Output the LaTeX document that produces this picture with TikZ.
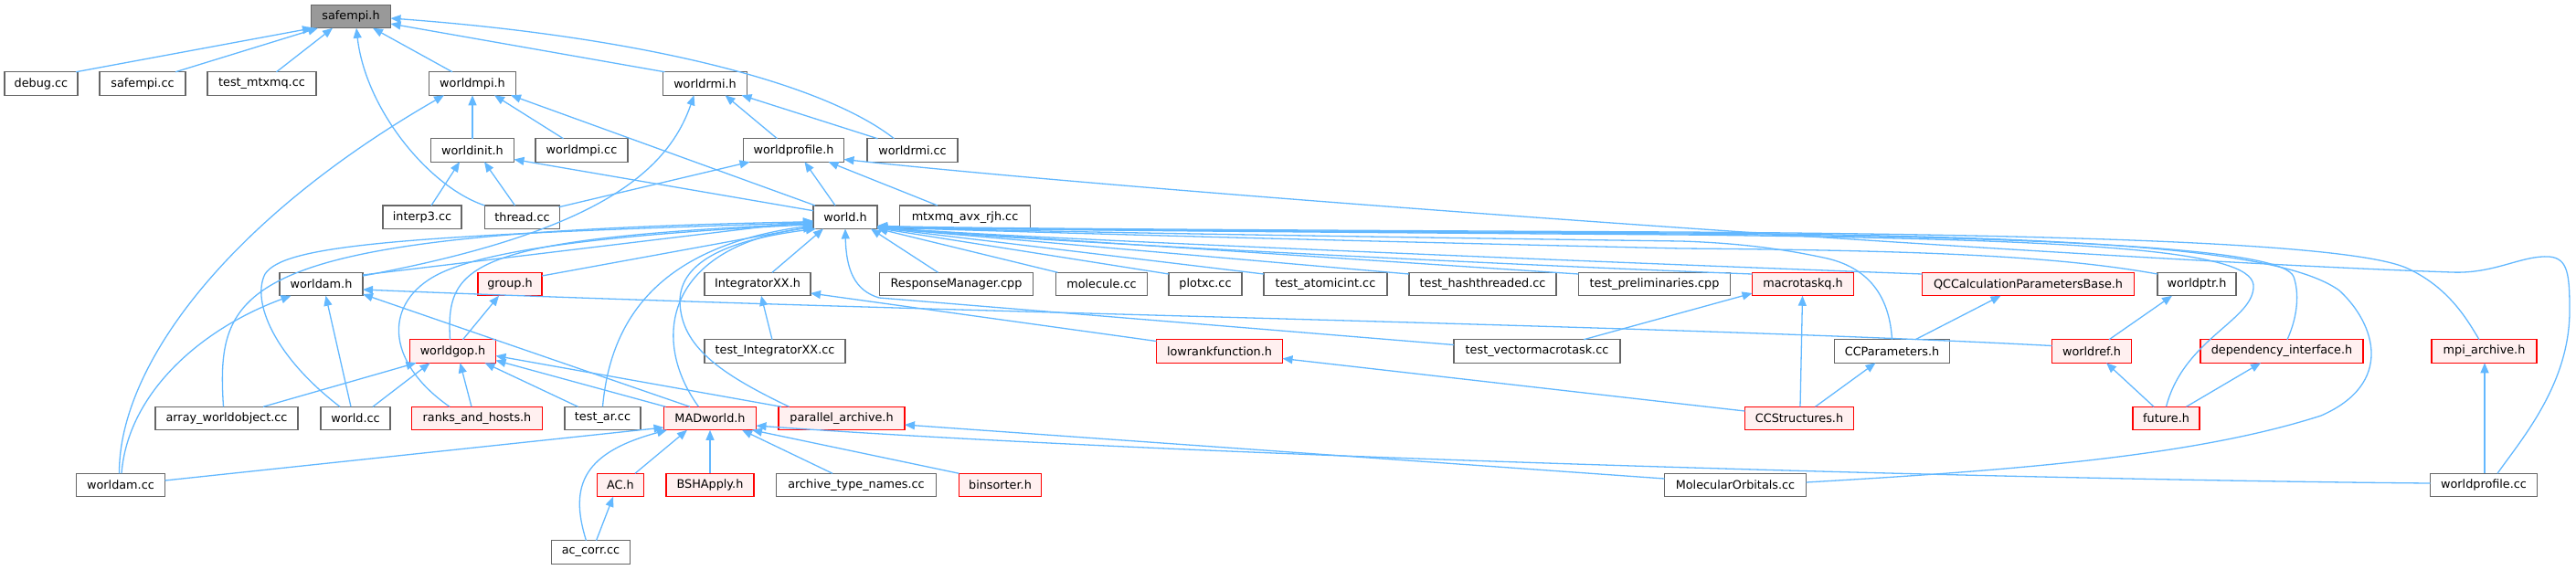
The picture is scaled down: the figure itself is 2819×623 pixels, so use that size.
\documentclass[tikz,border=0pt]{standalone}
\usepackage{fontspec}
\setmainfont{DejaVu Sans}
\usetikzlibrary{arrows.meta,calc}
\definecolor{edgeblue}{HTML}{63B8FF}
\definecolor{nodegray}{HTML}{666666}
\definecolor{redfill}{HTML}{FFF0F0}
\definecolor{rootgray}{HTML}{999999}
\tikzset{
  nb/.style={draw=nodegray, fill=white, line width=0.7pt, minimum height=12.75pt, inner sep=0pt,
    font=\fontsize{6.4}{7.5}\selectfont, text=black},
  nr/.style={nb, draw=red, fill=redfill},
  nroot/.style={nb, fill=rootgray},
  bw/.style={minimum width=0.5pt*#1},
  dep/.style={draw=edgeblue, line width=0.65pt, -{Triangle[length=5.5pt,width=4.5pt]}}
}
\begin{document}
\begin{tikzpicture}[x=0.5pt,y=-0.5pt]
\useasboundingbox (0,0) rectangle (2819,623);
% row 1
\node[nroot,bw=87] (safempih) at (384,18) {safempi.h};
% row 2
\node[nb,bw=80] (debugcc) at (45,91.5) {debug.cc};
\node[nb,bw=94] (safempicc) at (156,91.5) {safempi.cc};
\node[nb,bw=119] (testmtxmq) at (286.5,91.5) {test\_mtxmq.cc};
\node[nb,bw=95] (worldmpih) at (517,91.5) {worldmpi.h};
\node[nb,bw=92] (worldrmih) at (771.5,91.5) {worldrmi.h};
% row 3
\node[nb,bw=91] (worldinith) at (517,164.5) {worldinit.h};
\node[nb,bw=101] (worldmpicc) at (636.5,164.5) {worldmpi.cc};
\node[nb,bw=110] (worldprofileh) at (868.5,164.5) {worldprofile.h};
\node[nb,bw=99] (worldrmicc) at (998.5,164.5) {worldrmi.cc};
% row 4
\node[nb,bw=86] (interp3) at (462,237.7) {interp3.cc};
\node[nb,bw=82] (threadcc) at (571.5,237.7) {thread.cc};
\node[nb,bw=70] (worldh) at (925,237.7) {world.h};
\node[nb,bw=143] (mtxmq) at (1056,237.7) {mtxmq\_avx\_rjh.cc};
% row 5
\node[nb,bw=91] (worldamh) at (351.5,311) {worldam.h};
\node[nr,bw=70] (grouph) at (558,311) {group.h};
\node[nb,bw=116] (integh) at (829,311) {IntegratorXX.h};
\node[nb,bw=168] (respmgr) at (1046.5,311) {ResponseManager.cpp};
\node[nb,bw=100] (moleculecc) at (1205.5,311) {molecule.cc};
\node[nb,bw=80] (plotxc) at (1319,311) {plotxc.cc};
\node[nb,bw=135] (testatomic) at (1450.5,311) {test\_atomicint.cc};
\node[nb,bw=161] (testhash) at (1622.5,311) {test\_hashthreaded.cc};
\node[nb,bw=166] (testprelim) at (1810.5,311) {test\_preliminaries.cpp};
\node[nr,bw=111] (macrotaskq) at (1973,311) {macrotaskq.h};
\node[nr,bw=232] (qccalc) at (2219.5,311) {QCCalculationParametersBase.h};
\node[nb,bw=86] (worldptrh) at (2404,311) {worldptr.h};
% row 6
\node[nr,bw=94] (worldgoph) at (495.5,384.5) {worldgop.h};
\node[nb,bw=154] (testinteg) at (848,384.5) {test\_IntegratorXX.cc};
\node[nr,bw=138] (lowrank) at (1334.5,384.5) {lowrankfunction.h};
\node[nb,bw=182] (testvecmt) at (1682,384.5) {test\_vectormacrotask.cc};
\node[nb,bw=126] (ccparams) at (2070.5,384.5) {CCParameters.h};
\node[nr,bw=87] (worldrefh) at (2289,384.5) {worldref.h};
\node[nr,bw=178] (depint) at (2497,384.5) {dependency\_interface.h};
\node[nr,bw=115] (mpiarch) at (2718.5,384.5) {mpi\_archive.h};
% row 7
\node[nb,bw=156] (arraywo) at (248,458) {array\_worldobject.cc};
\node[nb,bw=76] (worldcc) at (389,458) {world.cc};
\node[nr,bw=143] (ranks) at (522,458) {ranks\_and\_hosts.h};
\node[nb,bw=83] (testar) at (659.5,458) {test\_ar.cc};
\node[nr,bw=101] (madworld) at (777,458) {MADworld.h};
\node[nr,bw=138] (parallelarch) at (921,458) {parallel\_archive.h};
\node[nr,bw=119] (ccstruct) at (1969,458) {CCStructures.h};
\node[nr,bw=73] (futureh) at (2370.5,458) {future.h};
% row 8
\node[nb,bw=97] (worldamcc) at (132,531) {worldam.cc};
\node[nr,bw=51] (ach) at (679,531) {AC.h};
\node[nr,bw=96] (bshapply) at (777,531) {BSHApply.h};
\node[nb,bw=175] (archtn) at (937,531) {archive\_type\_names.cc};
\node[nr,bw=90] (binsorter) at (1094.5,531) {binsorter.h};
\node[nb,bw=155] (molorb) at (1899,531) {MolecularOrbitals.cc};
\node[nb,bw=117] (worldprofcc) at (2718,531) {worldprofile.cc};
% row 9
\node[nb,bw=86] (accorr) at (646.5,604.5) {ac\_corr.cc};

% ---- edges to safempi.h
\draw[dep] ($(debugcc)+(38,-12.75)$) -- ($(safempih)+(-42,12.75)$);
\draw[dep] ($(safempicc)+(36,-12.75)$) -- ($(safempih)+(-36,12.75)$);
\draw[dep] ($(testmtxmq)+(16,-12.75)$) -- ($(safempih)+(-20,12.75)$);
\draw[dep] ($(worldmpih)+(-22,-12.75)$) -- ($(safempih)+(24,12.75)$);
\draw[dep] ($(worldrmih)+(-44,-12.75)$) -- ($(safempih)+(43.5,8)$);
\draw[dep] ($(threadcc)+(-41,-12.75)$) .. controls (470,205) and (400,120) .. ($(safempih)+(6,12.75)$);
\draw[dep] ($(worldrmicc)+(-20,-12.75)$) .. controls (900,90) and (700,40) .. ($(safempih)+(43.5,2)$);
% ---- edges to worldmpi.h
\draw[dep] ($(worldinith)+(0,-12.75)$) -- ($(worldmpih)+(0,12.75)$);
\draw[dep] ($(worldmpicc)+(-20,-12.75)$) -- ($(worldmpih)+(24,12.75)$);
\draw[dep] ($(worldh)+(-33,-12.75)$) -- ($(worldmpih)+(42,12.75)$);
\draw[dep] ($(worldamcc)+(-1.5,-12.75)$) .. controls (130,400) and (250,240) .. ($(worldmpih)+(-31,12.75)$);
% ---- edges to worldrmi.h
\draw[dep] ($(worldprofileh)+(-18,-12.75)$) -- ($(worldrmih)+(22,12.75)$);
\draw[dep] ($(worldrmicc)+(-38,-12.75)$) -- ($(worldrmih)+(40,12.75)$);
\draw[dep] ($(worldamh)+(45.5,-9)$) .. controls (650,255) and (730,190) .. ($(worldrmih)+(-12,12.75)$);
% ---- edges to worldinit.h
\draw[dep] ($(interp3)+(10,-12.75)$) -- ($(worldinith)+(-14,12.75)$);
\draw[dep] ($(threadcc)+(-8,-12.75)$) -- ($(worldinith)+(13,12.75)$);
\draw[dep] ($(worldh)+(-35,-7)$) -- ($(worldinith)+(45.5,10)$);
% ---- edges to worldprofile.h
\draw[dep] ($(threadcc)+(40,-11)$) -- ($(worldprofileh)+(-48,12.75)$);
\draw[dep] ($(worldh)+(-11,-12.75)$) -- ($(worldprofileh)+(12,12.75)$);
\draw[dep] ($(mtxmq)+(-30,-12.75)$) -- ($(worldprofileh)+(38,12.75)$);
\draw[dep] ($(worldprofcc)+(15,-12.75)$) .. controls (2760,480) and (2812,420) .. (2812,340)
  .. controls (2812,300) and (2810,283) .. (2790,281)
  .. controls (2760,279) and (2730,300) .. (2683,298)
  .. controls (2300,285) and (1300,215) .. ($(worldprofileh)+(55,10)$);
% ---- edges to world.h (left side)
\draw[dep] ($(worldamh)+(45.5,-10)$) -- ($(worldh)+(-35,4)$);
\draw[dep] ($(arraywo)+(-3.5,-12.75)$) .. controls (236,310) and (260,255) .. ($(worldh)+(-35,5)$);
\draw[dep] ($(worldcc)+(-17,-12.75)$) .. controls (300,390) and (275,330) .. (290,300)
  .. controls (310,270) and (420,258) .. ($(worldh)+(-35,6)$);
\draw[dep] ($(grouph)+(35,-9)$) -- ($(worldh)+(-35,10)$);
\draw[dep] ($(worldgoph)+(-3,-12.75)$) .. controls (488,290) and (510,262) .. ($(worldh)+(-35,7)$);
\draw[dep] ($(ranks)+(-30,-12.75)$) .. controls (420,395) and (420,330) .. (480,300)
  .. controls (540,270) and (700,255) .. ($(worldh)+(-35,8)$);
\draw[dep] ($(testar)+(0,-12.75)$) .. controls (668,350) and (720,270) .. ($(worldh)+(-35,9)$);
\draw[dep] ($(madworld)+(-12.5,-12.75)$) .. controls (710,370) and (730,270) .. ($(worldh)+(-35,11)$);
\draw[dep] ($(parallelarch)+(-57.5,-12.75)$) .. controls (790,410) and (745,380) .. (744,330)
  .. controls (744,285) and (800,262) .. ($(worldh)+(-32,12.75)$);
\draw[dep] ($(integh)+(16,-12.75)$) -- ($(worldh)+(-24,12.75)$);
\draw[dep] ($(testvecmt)+(-91,-7)$) -- (962,326) .. controls (935,318) and (926,295) .. ($(worldh)+(0,12.75)$);
% ---- edges to world.h (right side)
\draw[dep] ($(respmgr)+(-20,-12.75)$) -- ($(worldh)+(28,12.75)$);
\draw[dep] ($(moleculecc)+(-48,-12.75)$) -- ($(worldh)+(35,12.5)$);
\draw[dep] ($(plotxc)+(-40,-11)$) -- ($(worldh)+(35,12)$);
\draw[dep] ($(testatomic)+(-67.5,-11)$) -- ($(worldh)+(35,11.5)$);
\draw[dep] ($(testhash)+(-80.5,-11)$) -- ($(worldh)+(35,11.5)$);
\draw[dep] ($(testprelim)+(-83,-11)$) -- ($(worldh)+(35,11.5)$);
\draw[dep] ($(macrotaskq)+(-55.5,-11)$) .. controls (1600,288) and (1100,262) .. ($(worldh)+(35,11.5)$);
\draw[dep] ($(qccalc)+(-116,-11)$) .. controls (1700,285) and (1100,260) .. ($(worldh)+(35,11)$);
\draw[dep] ($(worldptrh)+(-43,-11)$) .. controls (2250,280) and (2100,274) .. (1840,272)
  .. controls (1400,262) and (1050,252) .. ($(worldh)+(35,11)$);
\draw[dep] ($(ccparams)+(0,-12.75)$) .. controls (2068,330) and (2050,295) .. (2000,283)
  .. controls (1950,272) and (1900,266) .. (1840,264)
  .. controls (1400,258) and (1050,252) .. ($(worldh)+(35,10.5)$);
\draw[dep] ($(futureh)+(0,-12.75)$) .. controls (2390,370) and (2468,350) .. (2466,312)
  .. controls (2462,275) and (2300,262) .. (1840,257)
  .. controls (1400,254) and (1050,251) .. ($(worldh)+(35,10.5)$);
\draw[dep] ($(depint)+(6,-12.75)$) .. controls (2515,345) and (2516,320) .. (2510,303)
  .. controls (2500,275) and (2300,260) .. (1840,256)
  .. controls (1400,253) and (1050,251) .. ($(worldh)+(35,10)$);
\draw[dep] ($(molorb)+(77.5,-3)$) .. controls (2200,515) and (2400,500) .. (2540,455)
  .. controls (2620,420) and (2600,355) .. (2560,318)
  .. controls (2500,275) and (2300,258) .. (1840,255)
  .. controls (1400,253) and (1050,251) .. ($(worldh)+(35,10)$);
\draw[dep] ($(mpiarch)+(-5.5,-12.75)$) .. controls (2700,350) and (2680,315) .. (2635,294)
  .. controls (2580,268) and (2300,257) .. (1840,254)
  .. controls (1400,252) and (1050,250) .. ($(worldh)+(35,9.5)$);
% ---- others
\draw[dep] ($(lowrank)+(-69,-11)$) -- ($(integh)+(58,10)$);
\draw[dep] ($(testinteg)+(-3,-12.75)$) -- ($(integh)+(4,12.75)$);
\draw[dep] ($(testvecmt)+(51,-12.75)$) -- ($(macrotaskq)+(-55.5,10)$);
\draw[dep] ($(worldrefh)+(-43.5,-6)$) .. controls (1800,355) and (1000,342) .. ($(worldamh)+(45.5,6)$);
\draw[dep] ($(ccstruct)+(-59.5,-8)$) -- ($(lowrank)+(69,8)$);
\draw[dep] ($(ccstruct)+(1,-12.75)$) -- ($(macrotaskq)+(-0.5,12.75)$);
\draw[dep] ($(ccstruct)+(17.5,-12.75)$) -- ($(ccparams)+(-18,12.75)$);
\draw[dep] ($(ccparams)+(25.5,-12.75)$) -- ($(qccalc)+(-30,12.75)$);
\draw[dep] ($(worldrefh)+(19,-12.75)$) -- ($(worldptrh)+(-27,12.75)$);
\draw[dep] ($(futureh)+(-13.5,-12.75)$) -- ($(worldrefh)+(16,12.75)$);
\draw[dep] ($(futureh)+(22,-12.75)$) -- ($(depint)+(-23,12.75)$);
\draw[dep] ($(worldprofcc)+(1,-12.75)$) -- ($(mpiarch)+(0.5,12.75)$);
\draw[dep] ($(worldprofcc)+(-58.5,-2)$) .. controls (2200,525) and (1300,500) .. ($(madworld)+(50.5,8)$);
\draw[dep] ($(molorb)+(-77.5,-7)$) -- ($(parallelarch)+(69,7)$);
\draw[dep] ($(binsorter)+(-45,-12.75)$) -- ($(madworld)+(46,12.75)$);
\draw[dep] ($(archtn)+(-26,-12.75)$) -- ($(madworld)+(35,12.75)$);
\draw[dep] ($(bshapply)+(0,-12.75)$) -- ($(madworld)+(0,12.75)$);
\draw[dep] ($(ach)+(16,-12.75)$) -- ($(madworld)+(-25,12.75)$);
\draw[dep] ($(accorr)+(-5,-12.75)$) .. controls (622,530) and (640,495) .. ($(madworld)+(-47,12.75)$);
\draw[dep] ($(accorr)+(6,-12.75)$) -- ($(ach)+(-8,12.75)$);
\draw[dep] ($(worldamcc)+(48.5,-5)$) -- ($(madworld)+(-50.5,10)$);
\draw[dep] ($(worldamcc)+(1,-12.75)$) .. controls (140,430) and (220,360) .. ($(worldamh)+(-33,12.75)$);
\draw[dep] ($(worldcc)+(-5,-12.75)$) -- ($(worldamh)+(5,12.75)$);
\draw[dep] ($(madworld)+(-22,-12.75)$) -- ($(worldamh)+(45.5,11)$);
\draw[dep] ($(arraywo)+(40,-12.75)$) -- ($(worldgoph)+(-40,12.75)$);
\draw[dep] ($(worldcc)+(19,-12.75)$) -- ($(worldgoph)+(-25,12.75)$);
\draw[dep] ($(ranks)+(-6,-12.75)$) -- ($(worldgoph)+(8,12.75)$);
\draw[dep] ($(testar)+(-27,-12.75)$) -- ($(worldgoph)+(35,12.75)$);
\draw[dep] ($(madworld)+(-48.5,-12.75)$) -- ($(worldgoph)+(47,10)$);
\draw[dep] ($(parallelarch)+(-66,-12.75)$) -- ($(worldgoph)+(47,5)$);
\draw[dep] ($(worldgoph)+(11,-12.75)$) -- ($(grouph)+(-12,12.75)$);
\end{tikzpicture}
\end{document}
